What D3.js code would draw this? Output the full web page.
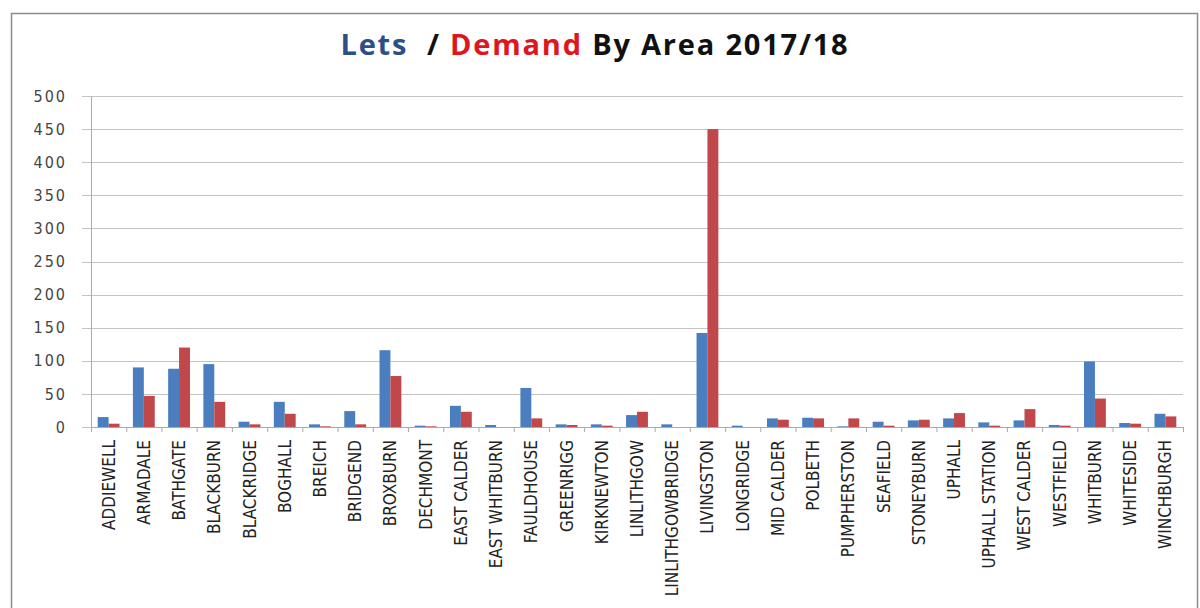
<!DOCTYPE html>
<html>
<head>
<meta charset="utf-8">
<script src="https://cdn.jsdelivr.net/npm/d3@7"></script>
<style>
  body { margin: 0; background: #fff; }
  text { font-family: "Liberation Sans Narrow", "DejaVu Sans Condensed", "Liberation Sans", sans-serif; }
</style>
</head>
<body>
<div id="vis"></div>
<script>
var areas = ["ADDIEWELL", "ARMADALE", "BATHGATE", "BLACKBURN", "BLACKRIDGE", "BOGHALL", "BREICH",
  "BRIDGEND", "BROXBURN", "DECHMONT", "EAST CALDER", "EAST WHITBURN", "FAULDHOUSE", "GREENRIGG",
  "KIRKNEWTON", "LINLITHGOW", "LINLITHGOWBRIDGE", "LIVINGSTON", "LONGRIDGE", "MID CALDER", "POLBETH",
  "PUMPHERSTON", "SEAFIELD", "STONEYBURN", "UPHALL", "UPHALL STATION", "WEST CALDER", "WESTFIELD",
  "WHITBURN", "WHITESIDE", "WINCHBURGH"];
var lets =   [15, 90, 88, 95, 8, 38, 4, 24, 116, 2, 32, 3, 59, 4, 4, 18, 4, 142, 2, 13, 14, 1, 8, 10, 13, 7, 10, 3, 99, 6, 20];
var demand = [5, 47, 120, 38, 4, 20, 1, 4, 77, 1, 23, 0, 13, 3, 2, 23, 0, 450, 0, 11, 13, 13, 2, 11, 21, 2, 27, 2, 43, 5, 16];
var yTicks = [0, 50, 100, 150, 200, 250, 300, 350, 400, 450, 500];

var width = 1200, height = 608;
var margin = {top: 96, right: 17, bottom: 181, left: 91};

var svg = d3.select("#vis").append("svg")
  .attr("width", width)
  .attr("height", height);

// chart frame
svg.append("rect")
  .attr("x", 11.5).attr("y", 13.5)
  .attr("width", 1186).attr("height", 620)
  .attr("fill", "#fff")
  .attr("stroke", "#8c8c8c")
  .attr("stroke-width", 1.5);

// title
var title = svg.append("text")
  .attr("x", width / 2 - 5)
  .attr("y", 55)
  .attr("text-anchor", "middle")
  .style("white-space", "pre")
  .style("font-family", "'Open Sans', sans-serif")
  .style("font-size", "29px")
  .style("letter-spacing", "1.8px")
  .style("font-weight", "bold");
title.append("tspan").attr("fill", "#2d4f86").text("Lets  ");
title.append("tspan").attr("fill", "#111").text("/ ");
title.append("tspan").attr("fill", "#e0161e").text("Demand");
title.append("tspan").attr("fill", "#111").text(" By Area 2017/18");

var g = svg.append("g")
  .attr("transform", "translate(" + margin.left + "," + margin.top + ")");

var w = width - margin.left - margin.right;
var h = height - margin.top - margin.bottom;

var x0 = d3.scaleBand()
  .domain(areas)
  .range([0, w])
  .paddingInner(0.38)
  .paddingOuter(0.19);

var x1 = d3.scaleBand()
  .domain(["lets", "demand"])
  .range([0, x0.bandwidth()]);

var y = d3.scaleLinear()
  .domain([0, 500])
  .range([h, 0]);

var color = d3.scaleOrdinal()
  .domain(["lets", "demand"])
  .range(["#4a7ebf", "#c0474a"]);

// gridlines
g.selectAll(".grid")
  .data(yTicks)
  .enter().append("line")
  .attr("x1", -9).attr("x2", w)
  .attr("y1", function(d) { return Math.round(y(d)) + 0.5; })
  .attr("y2", function(d) { return Math.round(y(d)) + 0.5; })
  .attr("stroke", "#c4c4c4")
  .attr("stroke-width", 1.2);

// y axis
var yAxis = g.append("g")
  .call(d3.axisLeft(y).tickValues(yTicks).tickSize(0).tickPadding(24));
yAxis.select(".domain").attr("stroke", "#aaa");
yAxis.selectAll("text")
  .attr("fill", "#444")
  .style("letter-spacing", "2px")
  .style("font-size", "16px");

// bars
var rows = areas.map(function(a, i) {
  return {area: a, values: [{key: "lets", v: lets[i]}, {key: "demand", v: demand[i]}]};
});

g.selectAll(".area")
  .data(rows)
  .enter().append("g")
  .attr("transform", function(d) { return "translate(" + x0(d.area) + ",0)"; })
  .selectAll("rect")
  .data(function(d) { return d.values; })
  .enter().append("rect")
  .attr("x", function(d) { return x1(d.key); })
  .attr("width", x1.bandwidth())
  .attr("y", function(d) { return y(d.v); })
  .attr("height", function(d) { return h - y(d.v); })
  .attr("fill", function(d) { return color(d.key); });

// x axis
var step = x0.step();
var xAxis = g.append("g")
  .attr("transform", "translate(0," + h + ")");
xAxis.append("line")
  .attr("x1", 0).attr("x2", w)
  .attr("y1", 0.5).attr("y2", 0.5)
  .attr("stroke", "#aaa");
xAxis.selectAll(".tick")
  .data(d3.range(areas.length + 1))
  .enter().append("line")
  .attr("x1", function(i) { return i * step + 0.5; })
  .attr("x2", function(i) { return i * step + 0.5; })
  .attr("y1", 0).attr("y2", 5)
  .attr("stroke", "#aaa");
xAxis.selectAll(".lbl")
  .data(areas)
  .enter().append("text")
  .attr("transform", function(d) {
    return "translate(" + (x0(d) + x0.bandwidth() / 2 + 6) + ",13) rotate(-90)";
  })
  .attr("text-anchor", "end")
  .attr("fill", "#222")
  .style("font-size", "17px")
  .text(function(d) { return d; });
</script>
</body>
</html>
